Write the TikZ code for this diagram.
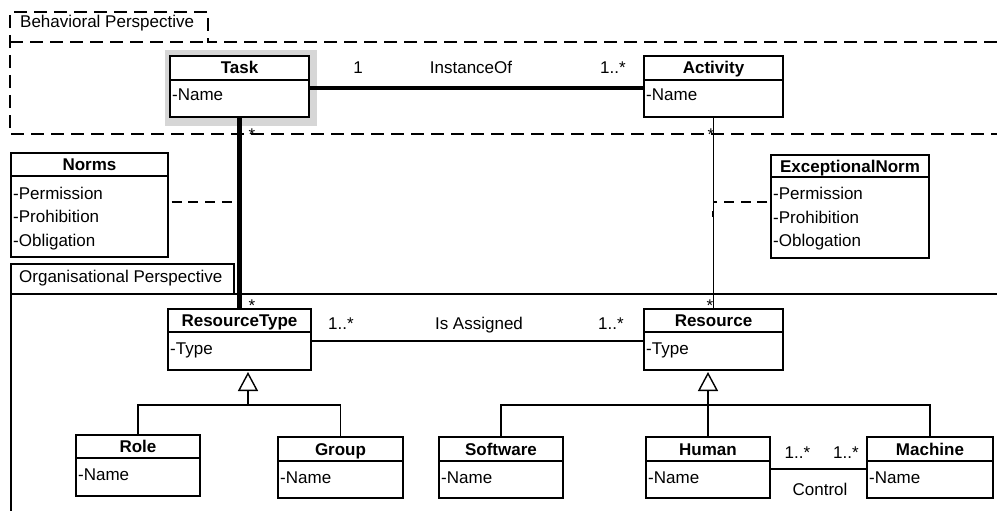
\documentclass[tikz,border=0pt]{standalone}
\usepackage{fontspec}
\setmainfont{Liberation Sans}
\usetikzlibrary{arrows.meta,calc}
\definecolor{taskhalo}{RGB}{214,214,214}
\newcommand{\umlclass}[7]{%
  \node[clsbox, minimum width={#4-#2}, minimum height={#5-#3}] (#1) at ({(#2+#4)/2},{(#3+#5)/2}) {};
  \draw[clsline] (#2,#6) -- (#4,#6);
  \node[ttl] (#1-t) at ({(#2+#4)/2},{(#3+#6)/2+6}) {#7};
}
\newcommand{\umlattr}[4]{\node[attr] (#1) at ({#2+2},#3) {#4};}
\begin{document}
\begin{tikzpicture}[x=1pt,y=-1pt,
  font=\fontsize{17}{20}\selectfont,
  clsbox/.style={draw=black, fill=white, line width=1.6pt, inner sep=0pt, outer sep=0pt},
  clsline/.style={line width=1.6pt},
  ttl/.style={font=\fontsize{17}{20}\selectfont\bfseries, anchor=base, inner sep=0pt},
  attr/.style={anchor=base west, inner sep=0pt},
  lbl/.style={anchor=base, inner sep=0pt},
  starlbl/.style={anchor=base, inner sep=0pt, text height=5pt, text depth=0pt},
  assoc/.style={line width=1.4pt},
  heavy/.style={line width=4.5pt},
  normlink/.style={line width=1.3pt, dash pattern=on 10pt off 6.7pt, dash phase=13pt},
  bframe/.style={line width=1.4pt, dash pattern=on 13pt off 7pt},
  oframe/.style={line width=1.4pt},
  gen/.style={line width=1.4pt, -{Triangle[open, length=19pt, width=20pt]}},
]
\useasboundingbox (0,0) rectangle (997,511);

% Behavioral perspective frame
\draw[bframe] (997,42) -- (208,42) -- (208,12) -- (10,12) -- (10,134) -- (997,134);
\draw[bframe] (10,42) -- (208,42);
\node[attr] (bp) at (20,28) {Behavioral Perspective};

% Organisational perspective frame
\draw[oframe] (997,294) -- (234,294) -- (234,264) -- (11,264) -- (11,511);
\draw[oframe] (11,294) -- (234,294);
\node[attr] (op) at (19,282) {Organisational Perspective};

% highlight behind Task
\fill[taskhalo] (165,50) rectangle (317,126);

% classes
\umlclass{task}{170}{56}{309}{117}{80}{Task}
\umlattr{task-a}{170}{101}{-Name}
\umlclass{act}{644}{56}{783}{117}{80}{Activity}
\umlattr{act-a}{644}{101}{-Name}
\umlclass{norms}{11}{153}{168}{257}{176}{Norms}
\umlattr{norms-a1}{11}{199}{-Permission}
\umlattr{norms-a2}{11}{222.5}{-Prohibition}
\umlattr{norms-a3}{11}{246}{-Obligation}
\umlclass{exc}{771}{155}{929}{258}{177}{ExceptionalNorm}
\umlattr{exc-a1}{771}{199.5}{-Permission}
\umlattr{exc-a2}{771}{223}{-Prohibition}
\umlattr{exc-a3}{771}{246.5}{-Oblogation}
\umlclass{rt}{168}{309}{311}{370}{332}{ResourceType}
\umlattr{rt-a}{168}{354}{-Type}
\umlclass{res}{644}{309}{783}{370}{332}{Resource}
\umlattr{res-a}{644}{354}{-Type}
\umlclass{role}{76}{435}{200}{496}{458}{Role}
\umlattr{role-a}{76}{480.5}{-Name}
\umlclass{group}{278}{437}{403}{498}{461}{Group}
\umlattr{group-a}{278}{483}{-Name}
\umlclass{soft}{439}{437}{563}{498}{461}{Software}
\umlattr{soft-a}{439}{483}{-Name}
\umlclass{human}{646}{437}{770}{498}{461}{Human}
\umlattr{human-a}{646}{483}{-Name}
\umlclass{mach}{867}{437}{993}{498}{461}{Machine}
\umlattr{mach-a}{867}{483}{-Name}

% associations
\coordinate (io1) at ([yshift=-1.5pt]task.east);
\draw[heavy] (io1) -- (io1 -| act.west);
\draw[heavy] (task.south) -- (rt.north);
\draw[assoc] (act.south) -- (res.north);
\coordinate (ia1) at ([yshift=-1.5pt]rt.east);
\draw[assoc] (ia1) -- (ia1 -| res.west);
\coordinate (c1) at ([yshift=-1.5pt]human.east);
\draw[assoc] (c1) -- (c1 -| mach.west);

% norm links
\coordinate (n1) at ([yshift=3pt]norms.east);
\draw[normlink] (n1) -- (n1 -| task.south);
\coordinate (e1) at ([yshift=4.5pt]exc.west);
\draw[normlink] (e1) -- (e1 -| act.south);
\draw[line width=2.2pt] (713,211) -- (713,217);

% generalisations
\coordinate (rtgen) at (248,372);
\coordinate (rtj) at (248,405);
\draw[gen] (rtj) -- (rtgen);
\draw[assoc] (role.north) |- (rtj) -| (group.north);
\coordinate (resgen) at (708,372);
\coordinate (resj) at (708,405);
\draw[gen] (human.north) -- (resgen);
\draw[assoc] (soft.north) |- (resj) -| (mach.north);

% multiplicities and labels
\node[lbl] (s1) at (252,140) {*};
\node[lbl] (s2) at (711,140) {*};
\node[starlbl] (s3) at (252,311) {*};
\node[starlbl] (s4) at (710,311) {*};
\node[lbl] (l1) at (358,74) {1};
\node[lbl] (l2) at (471,74) {InstanceOf};
\node[lbl] (l3) at (613,74) {1..*};
\node[lbl] (l4) at (341,329) {1..*};
\node[lbl] (l5) at (479,329) {Is Assigned};
\node[lbl] (l6) at (611,329) {1..*};
\node[lbl] (l7) at (797.5,458) {1..*};
\node[lbl] (l8) at (846,458) {1..*};
\node[lbl] (l9) at (820,495) {Control};
\end{tikzpicture}
\end{document}
